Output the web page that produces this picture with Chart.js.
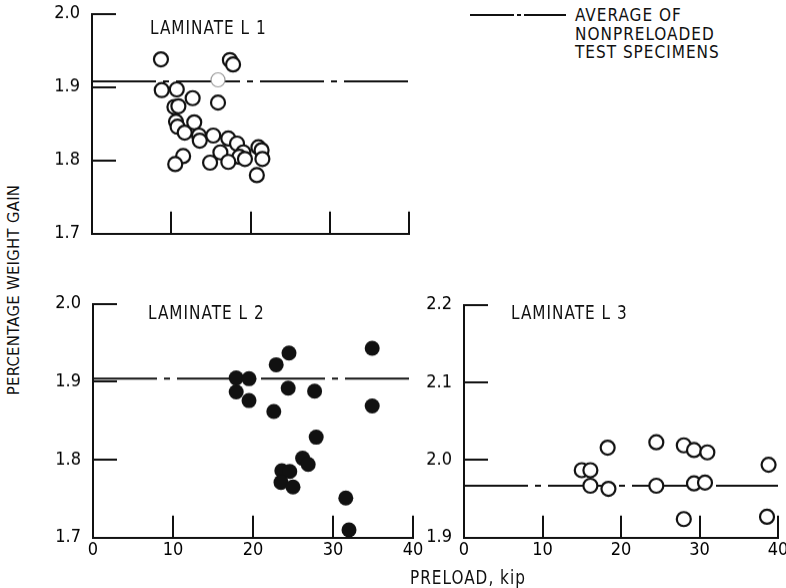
<!DOCTYPE html>
<html>
<head>
<meta charset="utf-8">
<script src="https://cdn.jsdelivr.net/npm/chart.js@4"></script>
<style>
  html, body { margin: 0; padding: 0; background: #fff; }
  body { width: 786px; height: 588px; position: relative; overflow: hidden;
         font-family: 'DejaVu Sans Condensed', 'DejaVu Sans', sans-serif; color: #111; }
  canvas { position: absolute; }
  .txt { position: absolute; white-space: nowrap; font-size: 17px; letter-spacing: 1px; line-height: 1;
         transform-origin: left center; transform: scaleY(1.15); }
  .ytitle { position: absolute; left: 14px; top: 290px; transform: translate(-50%, -50%) rotate(-90deg);
            font-size: 16.5px; white-space: nowrap; letter-spacing: 0.3px; line-height: 1; }
  .legend-text { position: absolute; left: 575px; top: 6px; font-size: 17px; line-height: 18.5px; letter-spacing: 1px; }
</style>
</head>
<body>
<canvas id="l1"></canvas>
<canvas id="l2"></canvas>
<canvas id="l3"></canvas>

<div class="txt" style="left:150px; top:19px;">LAMINATE L 1</div>
<div class="txt" style="left:148px; top:304px;">LAMINATE L 2</div>
<div class="txt" style="left:511px; top:304px;">LAMINATE L 3</div>

<svg style="position:absolute; left:470px; top:9px;" width="100" height="12">
  <line x1="0" y1="6" x2="96" y2="6" stroke="#111" stroke-width="2" stroke-dasharray="44 3 4 3 42"></line>
</svg>
<div class="legend-text">AVERAGE OF<br>NONPRELOADED<br>TEST SPECIMENS</div>

<div class="ytitle">PERCENTAGE WEIGHT GAIN</div>
<div class="txt" style="left:410px; top:569px;">PRELOAD, kip</div>

<script>
// Preload (kip) and percentage weight gain for each laminate
const l1Preload = [8.7, 17.4, 17.8, 8.8, 10.7, 12.7, 15.9, 10.4, 10.9, 10.6, 10.8, 11.7, 12.9, 13.5, 13.6,
                   15.3, 11.5, 10.5, 14.9, 16.2, 17.2, 18.3, 19.1, 18.6, 17.2, 19.3, 21.0, 21.4, 21.5, 20.8];
const l1Gain    = [1.938, 1.937, 1.931, 1.896, 1.897, 1.885, 1.879, 1.873, 1.874, 1.853, 1.846, 1.838, 1.852, 1.834, 1.827,
                   1.834, 1.806, 1.795, 1.797, 1.811, 1.830, 1.823, 1.811, 1.805, 1.798, 1.802, 1.818, 1.814, 1.802, 1.780];
const l1FaintPreload = [15.9];
const l1FaintGain    = [1.910];

const l2Preload = [17.9, 17.9, 19.5, 19.5, 22.9, 24.5, 22.6, 24.4, 27.7, 34.9, 34.9, 27.9, 26.2, 26.9,
                   23.6, 24.6, 23.5, 25.0, 31.6, 32.0];
const l2Gain    = [1.905, 1.887, 1.904, 1.876, 1.922, 1.937, 1.862, 1.892, 1.888, 1.943, 1.869, 1.829, 1.802, 1.794,
                   1.786, 1.785, 1.771, 1.765, 1.751, 1.710];

const l3Preload = [15.0, 16.1, 16.1, 18.3, 18.4, 24.5, 24.5, 28.0, 29.3, 31.0, 29.3, 30.7, 28.0, 38.8, 38.6];
const l3Gain    = [1.987, 1.987, 1.967, 2.016, 1.963, 2.023, 1.967, 2.019, 2.013, 2.010, 1.970, 1.971, 1.924, 1.994, 1.927];

// Average of nonpreloaded test specimens
const l1Average = 1.908;
const l2Average = 1.904;
const l3Average = 1.967;

const preloadTicks = [0, 10, 20, 30, 40];
const l1GainTicks = [1.7, 1.8, 1.9, 2.0];
const l2GainTicks = [1.7, 1.8, 1.9, 2.0];
const l3GainTicks = [1.9, 2.0, 2.1, 2.2];

const INK = '#111';
const FONT = "'DejaVu Sans Condensed', 'DejaVu Sans', sans-serif";
const AVG_DASH = [64, 7, 6, 7];

const zip = (xs, ys) => xs.map((x, i) => ({ x, y: ys[i] }));

// Short tick marks drawn inward from each axis
const innerTicks = {
  id: 'innerTicks',
  afterDatasetsDraw(chart) {
    const { ctx, chartArea: a, scales: { x, y } } = chart;
    ctx.save();
    ctx.strokeStyle = INK;
    ctx.lineWidth = 2;
    ctx.beginPath();
    y.ticks.forEach(t => {
      if (Math.abs(t.value - y.min) < 1e-9) return;
      const py = Math.round(y.getPixelForValue(t.value));
      ctx.moveTo(a.left, py);
      ctx.lineTo(a.left + 24, py);
    });
    x.ticks.forEach(t => {
      if (Math.abs(t.value - x.min) < 1e-9) return;
      const px = Math.round(x.getPixelForValue(t.value));
      ctx.moveTo(px, a.bottom);
      ctx.lineTo(px, a.bottom - 22);
    });
    ctx.stroke();
    ctx.restore();
  }
};

function makePanel(id, area, gainTicks, average, pointSets, showXLabels) {
  const PAD_L = 60, PAD_T = 14, PAD_R = 18, PAD_B = 30;
  const cv = document.getElementById(id);
  let w = area.right - area.left + PAD_L + PAD_R;
  let h = area.bottom - area.top + PAD_T + PAD_B;
  cv.width = w; cv.height = h;
  cv.style.width = w + 'px';
  cv.style.height = h + 'px';

  const datasets = pointSets.map((s, i) => Object.assign({
    type: 'scatter',
    order: i,
    pointStyle: 'circle',
    pointHoverRadius: s.pointRadius
  }, s));
  datasets.push({
    type: 'line',
    order: 10,
    data: [{ x: preloadTicks[0], y: average }, { x: preloadTicks[preloadTicks.length - 1], y: average }],
    borderColor: INK,
    borderWidth: 2,
    borderDash: AVG_DASH,
    pointRadius: 0,
    fill: false
  });

  const chart = new Chart(cv, {
    type: 'scatter',
    data: { datasets },
    options: {
      responsive: false,
      maintainAspectRatio: false,
      animation: false,
      devicePixelRatio: 1,
      layout: { padding: { left: 0, top: PAD_T, right: PAD_R, bottom: 0 } },
      plugins: { legend: { display: false }, tooltip: { enabled: false } },
      scales: {
        x: {
          type: 'linear',
          min: preloadTicks[0],
          max: preloadTicks[preloadTicks.length - 1],
          afterBuildTicks: s => { s.ticks = preloadTicks.map(v => ({ value: v })); },
          afterFit: s => { s.height = PAD_B; },
          grid: { display: false, drawTicks: false },
          border: { display: true, color: INK, width: 2 },
          ticks: {
            display: showXLabels,
            color: '#000',
            padding: 2,
            maxRotation: 0,
            font: { family: FONT, size: 18 },
            callback: v => String(v)
          }
        },
        y: {
          type: 'linear',
          min: gainTicks[0],
          max: gainTicks[gainTicks.length - 1],
          afterBuildTicks: s => { s.ticks = gainTicks.map(v => ({ value: v })); },
          afterFit: s => { s.width = PAD_L; },
          grid: { display: false, drawTicks: false },
          border: { display: true, color: INK, width: 2 },
          ticks: {
            color: '#000',
            padding: 12,
            font: { family: FONT, size: 18 },
            callback: v => Number(v).toFixed(1)
          }
        }
      }
    },
    plugins: [innerTicks]
  });

  // Resize so the plot area gets the intended size, then place the canvas
  const ca = chart.chartArea;
  w += (area.right - area.left) - (ca.right - ca.left);
  h += (area.bottom - area.top) - (ca.bottom - ca.top);
  chart.resize(w, h);
  const cb = chart.chartArea;
  cv.style.left = (area.left - cb.left) + 'px';
  cv.style.top = (area.top - cb.top) + 'px';
  return chart;
}

const openCircle = (data, r) => ({
  data, pointRadius: r, borderWidth: 2.2, borderColor: INK, backgroundColor: '#fff'
});

makePanel('l1', { left: 92, right: 409, top: 14, bottom: 233 }, l1GainTicks, l1Average, [
  openCircle(zip(l1Preload, l1Gain), 7),
  { data: zip(l1FaintPreload, l1FaintGain), pointRadius: 7, borderWidth: 1.2, borderColor: '#9a9a9a', backgroundColor: '#fff' }
], false);

makePanel('l2', { left: 93, right: 413, top: 304, bottom: 537 }, l2GainTicks, l2Average, [
  { data: zip(l2Preload, l2Gain), pointRadius: 7.5, borderWidth: 0, borderColor: INK, backgroundColor: INK }
], true);

makePanel('l3', { left: 464, right: 778, top: 305, bottom: 537 }, l3GainTicks, l3Average, [
  openCircle(zip(l3Preload, l3Gain), 7)
], true);
</script>
</body>
</html>
